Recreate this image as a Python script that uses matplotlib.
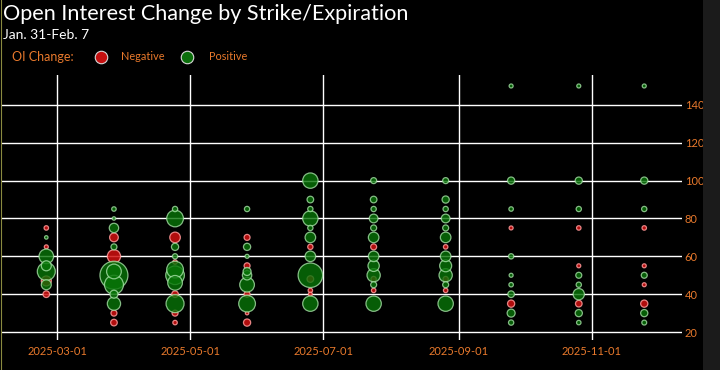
import matplotlib
matplotlib.use('Agg')
import matplotlib.pyplot as plt
import matplotlib.dates as mdates
import numpy as np
import pandas as pd
from matplotlib.lines import Line2D
from matplotlib.patches import Rectangle

# ---- data ----
expiry = (["2025-02-24"] * 10 + ["2025-03-27"] * 13 + ["2025-04-24"] * 13 +
          ["2025-05-27"] * 12 + ["2025-06-25"] * 13 + ["2025-07-24"] * 14 +
          ["2025-08-26"] * 14 + ["2025-09-25"] * 11 + ["2025-10-26"] * 11 +
          ["2025-11-25"] * 10)
strike = [75, 70, 65, 60, 55, 52, 47, 45, 40, 40,
          85, 80, 75, 70, 65, 60, 52, 50, 45, 40, 35, 30, 25,
          85, 80, 70, 65, 60, 57, 53, 50, 46, 40, 35, 30, 25,
          85, 70, 65, 60, 55, 52, 50, 45, 40, 35, 30, 25,
          100, 90, 85, 80, 75, 70, 65, 60, 50, 48, 42, 40, 35,
          100, 90, 85, 80, 75, 70, 65, 60, 55, 50, 48, 45, 42, 35,
          100, 90, 85, 80, 75, 70, 65, 60, 55, 50, 48, 45, 42, 35,
          150, 100, 85, 75, 60, 50, 45, 40, 35, 30, 25,
          150, 100, 85, 75, 55, 50, 45, 40, 35, 30, 25,
          150, 100, 85, 75, 55, 50, 45, 35, 30, 25]
oi_change = [-500, 300, -400, 5300, 2500, 8100, -2500, 2500, -1100, 0,
             500, 300, 2200, -1900, 900, -4400, 5400, 19600, 9000, 1600, 4400, -900, -1100,
             700, 7000, -2800, 1300, 700, -500, 7000, 8700, 5400, -1100, 8100, -900, -500,
             700, -900, 1300, 400, -900, 1600, 2200, 5400, -900, 7000, -300, -1300,
             5900, 1100, 700, 5900, 700, 2800, -700, 2800, 15000, -1100, -500, -400, 5900,
             900, 1100, 700, 1900, 900, 2800, -900, 2800, 3200, 4400, -700, 900, -500, 5900,
             900, 1300, 700, 1900, 900, 2800, -500, 2800, 3600, 4400, -700, 900, -500, 5900,
             400, 1300, 500, -400, 700, 400, 500, 1100, -1300, 1600, 700,
             400, 1300, 700, -500, -400, 900, 700, 3200, -1100, 1300, 500,
             400, 1300, 700, -500, -400, 900, -400, -1300, 1300, 600]
x_ticks = ["2025-03-01", "2025-05-01", "2025-07-01", "2025-09-01", "2025-11-01"]
y_ticks = [20, 40, 60, 80, 100, 120, 140]

df = pd.DataFrame({"expiry": pd.to_datetime(expiry), "strike": strike, "chg": oi_change})
df = df[df.chg != 0]

ORANGE = '#e8792c'
FONT = ['Lato', 'DejaVu Sans']
plt.rcParams['font.family'] = FONT

fig = plt.figure(figsize=(7.2, 3.7), dpi=100, facecolor='black')
ax = fig.add_axes([2 / 720, 30 / 370, 680 / 720, 265 / 370])
ax.set_facecolor('black')

k = 0.0207
neg = df[df.chg < 0].sort_values('chg')
pos = df[df.chg > 0].sort_values('chg', ascending=False)
ax.scatter(neg.expiry, neg.strike, s=neg.chg.abs() * k, c='#d01010',
           edgecolors='#ff9a9a', linewidths=0.9, alpha=0.85, zorder=3)
ax.scatter(pos.expiry, pos.strike, s=pos.chg * k, c='#087508',
           edgecolors='#a5e0a5', linewidths=0.9, alpha=0.8, zorder=4)

x0 = mdates.date2num(pd.Timestamp("2025-03-01"))
ax.set_xlim(x0 - 25.3, x0 + 286.3)
ax.set_ylim(15.8, 155.8)
ax.set_xticks([mdates.date2num(pd.Timestamp(t)) for t in x_ticks])
ax.set_xticklabels(x_ticks)
ax.set_yticks(y_ticks)
ax.yaxis.tick_right()
ax.grid(True, color='white', linewidth=1, zorder=1)
ax.set_axisbelow(True)
for sp in ax.spines.values():
    sp.set_visible(False)
ax.tick_params(axis='both', length=0, colors=ORANGE, labelsize=8)
ax.tick_params(axis='x', pad=4)
ax.tick_params(axis='y', pad=2)

# titles
fig.text(3 / 720, 1 - 14 / 370, "Open Interest Change by Strike/Expiration", color='white',
         fontsize=15.6, va='center', ha='left')
fig.text(3 / 720, 1 - 35 / 370, "Jan. 31-Feb. 7", color='white', fontsize=10,
         va='center', ha='left')
# legend
ly = 1 - 57 / 370
fig.text(12 / 720, ly, "OI Change:", color=ORANGE, fontsize=9, va='center', ha='left')
fig.add_artist(Line2D([101 / 720], [ly], marker='o', markersize=9, color='none',
                      markerfacecolor='#c41010', markeredgecolor='#d8d8d8',
                      markeredgewidth=0.8, transform=fig.transFigure))
fig.text(121 / 720, ly, "Negative", color=ORANGE, fontsize=7.8, va='center', ha='left')
fig.add_artist(Line2D([187 / 720], [ly], marker='o', markersize=9, color='none',
                      markerfacecolor='#0a6e0a', markeredgecolor='#d8d8d8',
                      markeredgewidth=0.8, transform=fig.transFigure))
fig.text(209 / 720, ly, "Positive", color=ORANGE, fontsize=7.8, va='center', ha='left')

# frame decorations
fig.add_artist(Rectangle((703 / 720, 0), 17 / 720, 1, transform=fig.transFigure,
                         facecolor='#1b1b1b', edgecolor='none'))
fig.add_artist(Line2D([1 / 720, 1 / 720], [0, 1], color='#8a8a40', lw=0.8,
                      transform=fig.transFigure))

fig.savefig('out.png', dpi=100, facecolor='black')
